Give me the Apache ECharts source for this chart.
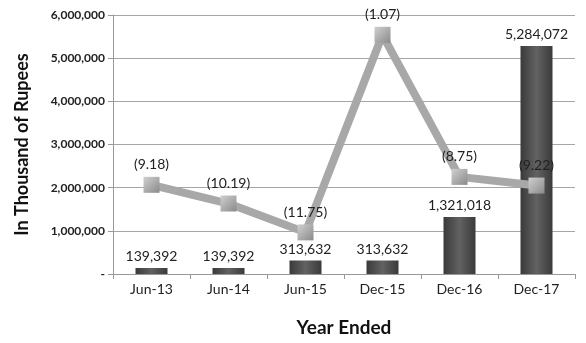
<!DOCTYPE html>
<html>
<head>
<meta charset="utf-8">
<script src="https://cdn.jsdelivr.net/npm/echarts@6/dist/echarts.min.js"></script>
<style>
    html, body { margin: 0; padding: 0; background: #fff; }
    #chart { width: 586px; height: 343px; }
</style>
</head>
<body>
<div id="chart"></div>
<script>
var categories = ['Jun-13', 'Jun-14', 'Jun-15', 'Dec-15', 'Dec-16', 'Dec-17'];
var barValues = [139392, 139392, 313632, 313632, 1321018, 5284072];
var lineValues = [-9.18, -10.19, -11.75, -1.07, -8.75, -9.22];
var fontName = 'Lato';

function fmtNum(v) {
    if (v === 0) return '-';
    return v.toString().replace(/\B(?=(\d{3})+(?!\d))/g, ',');
}

var chart = echarts.init(document.getElementById('chart'));
chart.setOption({
    animation: false,
    textStyle: { fontFamily: fontName },
    grid: { left: 113, right: 11, top: 15, bottom: 69 },
    xAxis: {
        type: 'category',
        data: categories,
        name: 'Year Ended',
        nameLocation: 'middle',
        nameGap: 44,
        nameTextStyle: { fontSize: 19, fontWeight: 'bold', color: '#111' },
        axisLine: { lineStyle: { color: '#999' } },
        axisTick: { show: true, alignWithLabel: false, length: 5, lineStyle: { color: '#999' } },
        axisLabel: { fontSize: 14, color: '#222', margin: 8 }
    },
    yAxis: [{
        type: 'value',
        min: 0,
        max: 6000000,
        interval: 1000000,
        name: 'In Thousand of Rupees',
        nameLocation: 'middle',
        nameGap: 82,
        nameTextStyle: { fontSize: 18, fontWeight: 'bold', color: '#111' },
        axisLine: { show: true, lineStyle: { color: '#999' } },
        axisTick: { show: true, length: 5, lineStyle: { color: '#999' } },
        axisLabel: { fontSize: 12, fontWeight: 'bold', color: '#222', margin: 8, formatter: fmtNum },
        splitLine: { lineStyle: { color: '#a6a6a6' } }
    }, {
        type: 'value',
        min: -14,
        max: 0,
        show: false
    }],
    series: [{
        type: 'bar',
        data: barValues,
        barWidth: 32,
        itemStyle: {
            color: new echarts.graphic.LinearGradient(0, 0, 1, 0, [
                { offset: 0, color: '#3a3a3a' },
                { offset: 0.5, color: '#626262' },
                { offset: 1, color: '#3a3a3a' }
            ])
        },
        label: {
            show: true,
            position: 'top',
            distance: 4,
            fontSize: 14,
            color: '#222',
            formatter: function(p) { return fmtNum(p.value); }
        },
        z: 2
    }, {
        type: 'line',
        yAxisIndex: 1,
        data: lineValues,
        symbol: 'rect',
        symbolSize: 16,
        lineStyle: { color: '#a8a8a8', width: 8 },
        itemStyle: {
            color: new echarts.graphic.LinearGradient(0, 0, 1, 1, [
                { offset: 0, color: '#d0d0d0' },
                { offset: 1, color: '#8a8a8a' }
            ])
        },
        label: {
            show: true,
            position: 'top',
            distance: 5,
            fontSize: 14,
            color: '#222',
            formatter: function(p) { return '(' + Math.abs(p.value).toFixed(2) + ')'; }
        },
        z: 3
    }]
});
</script>
</body>
</html>
